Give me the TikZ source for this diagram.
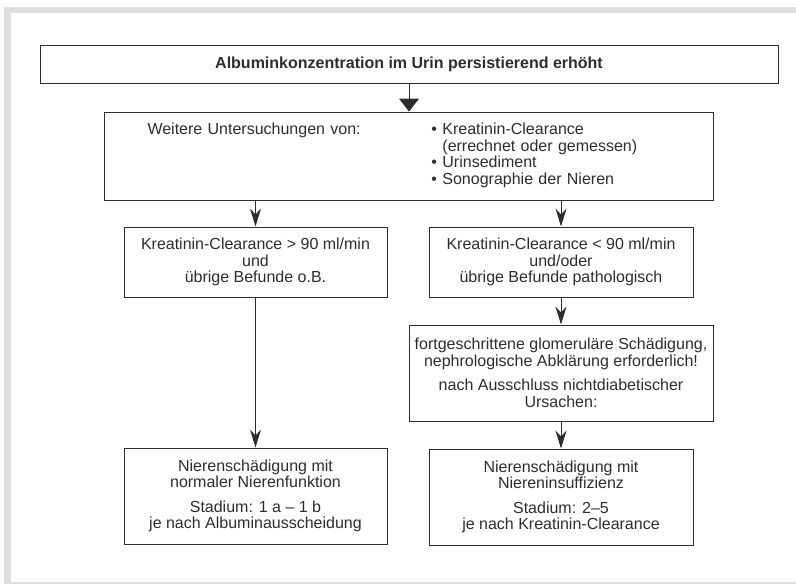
\documentclass[tikz,border=0pt]{standalone}
\usepackage{fontspec}
\setmainfont{Liberation Sans}
\usetikzlibrary{arrows.meta,positioning}

\definecolor{framegray}{RGB}{222,222,222}
\definecolor{ink}{RGB}{45,45,45}

\tikzset{
  box/.style={draw=ink, line width=1pt, rectangle, align=center, inner sep=2pt,
    text=ink, font=\fontsize{16}{16.5}\selectfont},
  titlebox/.style={box, font=\fontsize{16}{16.5}\selectfont\bfseries},
  bigtip/.style={-{Triangle[width=20pt,length=13pt]}}
}

\begin{document}
\begin{tikzpicture}[x=1pt,y=-1pt,->,>={Stealth[length=18pt,width=11pt,inset=6pt]},
    node distance=27pt, line width=1pt, draw=ink]
  \useasboundingbox (0,0) rectangle (796,584);
  % frame
  \fill[framegray] (4,7) rectangle (796,13);
  \fill[framegray] (4,7) rectangle (11,584);
  \fill[framegray] (11,582) rectangle (796,584);

  \node[titlebox,minimum width=738pt,minimum height=38pt] (alb) at (409,64)
    {Albuminkonzentration im Urin persistierend erh\"oht};
  \node[box,minimum width=609pt,minimum height=88pt,align=left,
        text width=523pt,inner xsep=43pt] (inv) [below=28pt of alb]
    {\begin{tabular}{@{}p{284pt}@{}l@{}}
       Weitere Untersuchungen von: & \textbullet\ Kreatinin-Clearance\\
       & \phantom{\textbullet\ }(errechnet oder gemessen)\\
       & \textbullet\ Urinsediment\\
       & \textbullet\ Sonographie der Nieren
     \end{tabular}};

  \node[box,minimum width=263pt,minimum height=70pt] (kcn) at (255.5,262)
    {Kreatinin-Clearance > 90 ml/min\\und\\\"ubrige Befunde o.B.};
  \node[box,minimum width=264pt,minimum height=70pt] (kcp) at (561,262)
    {Kreatinin-Clearance < 90 ml/min\\und/oder\\\"ubrige Befunde pathologisch};
  \node[box,minimum width=304pt,minimum height=96pt] (glom) [below=of kcp]
    {fortgeschrittene glomerul\"are Sch\"adigung,\\nephrologische Abkl\"arung erforderlich!\\[8pt]
     nach Ausschluss nichtdiabetischer\\Ursachen:};
  \node[box,minimum width=264pt,minimum height=96pt] (insuff) [below=of glom]
    {Nierensch\"adigung mit\\Niereninsuffizienz\\[8pt]Stadium: 2--5\\je nach Kreatinin-Clearance};
  \node[box,minimum width=263pt,minimum height=96pt] (normal) [below=150pt of kcn]
    {Nierensch\"adigung mit\\normaler Nierenfunktion\\[8pt]Stadium: 1 a -- 1 b\\je nach Albuminausscheidung};

  \path (alb) edge [bigtip] (inv)
        (inv.south -| kcn.north) edge (kcn)
        (inv.south -| kcp.north) edge (kcp)
        (kcn) edge (normal)
        (kcp) edge (glom)
        (glom) edge (insuff)
        ;
\end{tikzpicture}
\end{document}
